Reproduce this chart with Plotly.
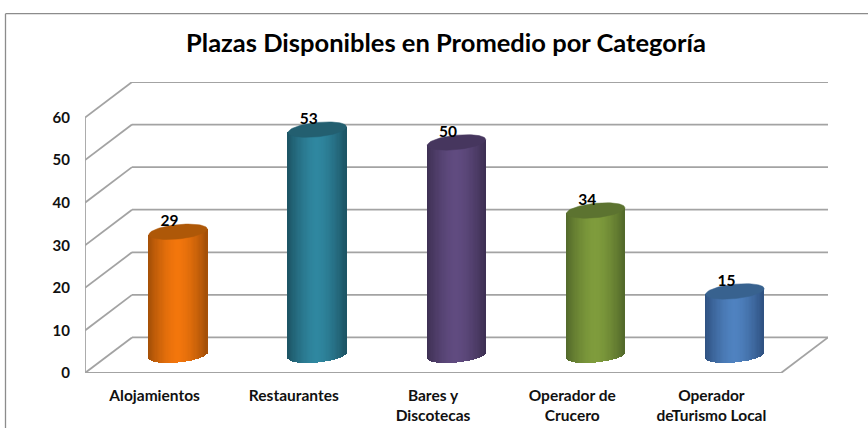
import math
import plotly.graph_objects as go

title = "Plazas Disponibles en Promedio por Categoría"
categories = ["Alojamientos", "Restaurantes", "Bares y<br>Discotecas", "Operador de<br>Crucero", "Operador<br>deTurismo Local"]
values = [29, 53, 50, 34, 15]
y_ticks = [0, 10, 20, 30, 40, 50, 60]
centre_colors = ["#F3760C", "#2F87A0", "#604B80", "#7F9C3C", "#4F82C0"]
edge_colors = ["#A34F07", "#1C5363", "#3D2F52", "#52682A", "#2E5080"]
top_colors = ["#AE5808", "#235F70", "#46365E", "#5C7330", "#38628F"]

# Pixel geometry of the pseudo-3D frame
PX_L, PX_R_FRONT, PX_BOTTOM, PX_TOP_FRONT = 85, 781, 372.7, 117.7
DEPTH_X, DEPTH_Y = 47, 35.5
W, H = 868, 428
px_per_cat = (PX_R_FRONT - PX_L) / 5
px_per_unit = (PX_BOTTOM - PX_TOP_FRONT) / 60
back_dx = DEPTH_X / px_per_cat
back_dy = DEPTH_Y / px_per_unit
x_min, x_max = -0.5, 4.5
mid_dx, mid_dy = back_dx / 2, 17.7 / px_per_unit
cyl_w = 58.5 / px_per_cat
ry = 7.2 / px_per_unit
tilt = 2.8 / px_per_unit
GRID = "#A3A3A3"


def hex_mix(a, b, t):
    ca = [int(a[i:i + 2], 16) for i in (1, 3, 5)]
    cb = [int(b[i:i + 2], 16) for i in (1, 3, 5)]
    return "#" + "".join(f"{round(p + (q - p) * t):02X}" for p, q in zip(ca, cb))


fig = go.Figure()

# Frame shapes
shapes = []


def seg(x0, y0, x1, y1, color=GRID, width=1.8):
    shapes.append(dict(type="line", xref="x", yref="y", x0=x0, y0=y0, x1=x1, y1=y1,
                       line=dict(color=color, width=width), layer="below"))


for v in y_ticks:
    seg(x_min, v, x_min + back_dx, v + back_dy)
    seg(x_min + back_dx, v + back_dy, x_max + back_dx, v + back_dy)
seg(x_min, 0, x_min, 60)
seg(x_min, 0, x_max, 0)
seg(x_max, 0, x_max + back_dx, back_dy)
tick_len = 6 / px_per_unit
for k in range(6):
    seg(x_min + k, 0, x_min + k, -tick_len, width=1.2)
for v in y_ticks:
    seg(x_min, v, x_min - 6 / px_per_cat, v, width=1.2)

# Outer chart border
for x0, y0, x1, y1 in [(5.5, 14, W, 14), (5.5, 14, 5.5, H)]:
    shapes.append(dict(type="line", xref="paper", yref="paper",
                       x0=(x0 - PX_L) / (PX_R_FRONT + DEPTH_X - PX_L), x1=(x1 - PX_L) / (PX_R_FRONT + DEPTH_X - PX_L),
                       y0=(PX_BOTTOM - y0) / (PX_BOTTOM - PX_TOP_FRONT + DEPTH_Y),
                       y1=(PX_BOTTOM - y1) / (PX_BOTTOM - PX_TOP_FRONT + DEPTH_Y),
                       line=dict(color="#8C8C8C", width=1.3), layer="below"))

# Main bars (underlay)
cx = [i + mid_dx for i in range(5)]
fig.add_trace(go.Bar(x=cx, y=values, base=[mid_dy] * 5, width=[cyl_w * 0.7] * 5,
                     marker=dict(color=centre_colors, line=dict(width=0)), showlegend=False, hoverinfo="skip"))

# Cylinder shading: narrow slices, each ending on the elliptical rim
N = 48
for i, v in enumerate(values):
    xs, bases, heights, cols = [], [], [], []
    for s in range(N):
        u = -1 + (2 * s + 1) / N
        xs.append(cx[i] + u * cyl_w / 2)
        low = mid_dy + tilt * u - ry * math.sqrt(max(0, 1 - u * u))
        top = mid_dy + v + tilt * u
        bases.append(low)
        heights.append(top - low)
        t = min(1, abs(u)) ** 1.6
        cols.append(hex_mix(centre_colors[i], edge_colors[i], t))
    fig.add_trace(go.Bar(x=xs, y=heights, base=bases, width=[cyl_w / N * 1.35] * N,
                         marker=dict(color=cols, line=dict(width=0)), showlegend=False, hoverinfo="skip"))
    # top cap
    th = [2 * math.pi * a / 72 for a in range(73)]
    ex = [cx[i] + math.cos(a) * cyl_w / 2 for a in th]
    ey = [mid_dy + v + tilt * math.cos(a) + ry * math.sin(a) for a in th]
    fig.add_trace(go.Scatter(x=ex, y=ey, mode="lines", fill="toself", fillcolor=top_colors[i],
                             line=dict(color=top_colors[i], width=0.5), showlegend=False, hoverinfo="skip"))

# Value labels
fig.add_trace(go.Scatter(x=[c - 8.5 / px_per_cat for c in cx],
                         y=[mid_dy + v + 9.5 / px_per_unit for v in values],
                         mode="text", text=[str(v) for v in values],
                         textfont=dict(family="Lato", size=15.5, color="#000000", weight="bold"),
                         textposition="middle center", showlegend=False, hoverinfo="skip", cliponaxis=False))

fig.update_layout(
    width=W, height=H,
    margin=dict(l=PX_L, r=W - PX_R_FRONT - DEPTH_X, t=PX_TOP_FRONT - DEPTH_Y, b=H - PX_BOTTOM, pad=0, autoexpand=False),
    plot_bgcolor="white", paper_bgcolor="white",
    barmode="overlay", bargap=0,
    shapes=shapes,
    title=dict(text=f"<b>{title}</b>", x=446 / W, xanchor="center", y=1 - 43 / H, yanchor="middle",
               font=dict(family="Lato", size=25.5, color="#000000")),
    xaxis=dict(range=[x_min, x_max + back_dx], tickmode="array", tickvals=list(range(5)), ticktext=categories,
               showgrid=False, zeroline=False, showline=False, ticks="", ticklabelstandoff=11,
               tickfont=dict(family="Lato", size=15.5, color="#111111", weight="bold"), tickangle=0),
    yaxis=dict(range=[0, 60 + back_dy], tickmode="array", tickvals=y_ticks, ticktext=[str(v) for v in y_ticks],
               showgrid=False, zeroline=False, showline=False, ticks="", ticklabelstandoff=14,
               tickfont=dict(family="Lato", size=15, color="#111111", weight="bold")),
)

fig.write_html("out.html", config={"displayModeBar": False},
               post_script="document.body.style.margin='0';document.documentElement.style.overflow='hidden';")
